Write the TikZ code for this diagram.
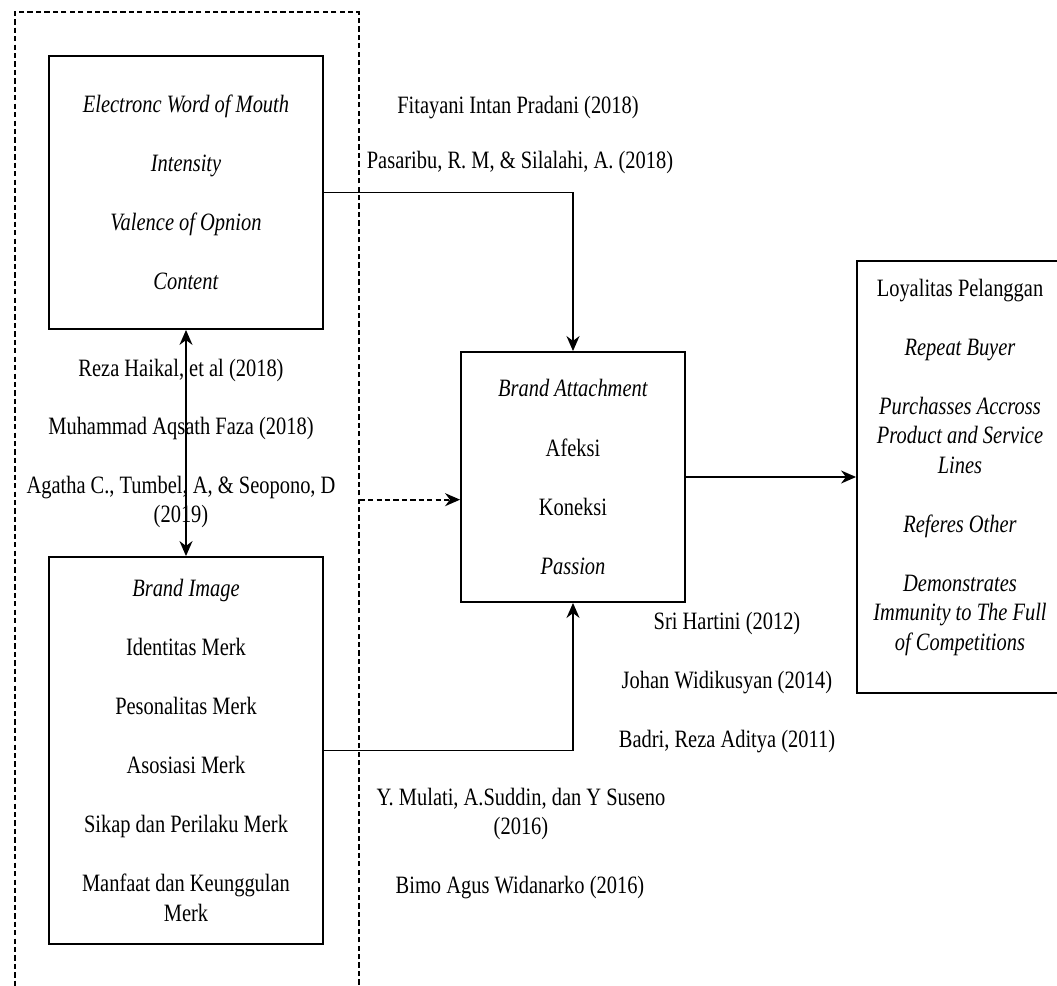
\documentclass[tikz,border=0pt]{standalone}
\usepackage{fontspec}
\setmainfont[FakeStretch=0.82]{Liberation Serif}
\usetikzlibrary{positioning,arrows.meta,calc}
\tikzset{
  varbox/.style={draw, line width=1.1pt, align=center, inner sep=0pt, font=\fontsize{14.2}{16.8}\selectfont},
  cite/.style={align=center, inner sep=0pt, font=\fontsize{14.2}{16.8}\selectfont},
  arrow/.style={-{Stealth[length=3mm, width=2.6mm]}, line width=1pt},
  grpframe/.style={draw, line width=1pt, dash pattern=on 3pt off 1.8pt}
}

\begin{document}
\begin{tikzpicture}[x=0.02cm, y=-0.02cm]
    \useasboundingbox (0,0) rectangle (1057,986);
    \clip (0,0) rectangle (1057,986);
    \node[grpframe, anchor=north west, minimum width=6.88cm, minimum height=20cm] (grp) at (14,11) {};
    \node[varbox, minimum width=5.48cm, minimum height=5.46cm] (ewom) at (186,192.5)
      {\textit{Electronc Word of Mouth}\\[16.8pt]\textit{Intensity}\\[16.8pt]\textit{Valence of Opnion}\\[16.8pt]\textit{Content}};
    \node[varbox, minimum width=5.48cm, minimum height=7.74cm] (bimage) at (186,750.5)
      {\textit{Brand Image}\\[16.8pt]Identitas Merk\\[16.8pt]Pesonalitas Merk\\[16.8pt]Asosiasi Merk\\[16.8pt]Sikap dan Perilaku Merk\\[16.8pt]Manfaat dan Keunggulan\\Merk};
    \node[varbox, minimum width=4.48cm, minimum height=5.0cm] (battach) at (573,477)
      {\textit{Brand Attachment}\\[16.8pt]Afeksi\\[16.8pt]Koneksi\\[16.8pt]\textit{Passion}};
    \node[varbox, minimum width=4.12cm, minimum height=8.64cm] (loyal) at (960,477)
      {Loyalitas Pelanggan\\[16.8pt]\textit{Repeat Buyer}\\[16.8pt]\textit{Purchasses Accross}\\\textit{Product and Service}\\\textit{Lines}\\[16.8pt]\textit{Referes Other}\\[16.8pt]\textit{Demonstrates}\\\textit{Immunity to The Full}\\\textit{of Competitions}\rule[-0.5cm]{0pt}{0pt}};
    \node[cite] (c1) at (181,370) {Reza Haikal, et al (2018)};
    \node[cite] (c2) at (181,428) {Muhammad Aqsath Faza (2018)};
    \node[cite] (c3) at (181,502) {Agatha C., Tumbel, A, \& Seopono, D\\(2019)};
    \node[cite] (c4) at (518,108) {Fitayani Intan Pradani (2018)};
    \node[cite] (c5) at (520,163) {Pasaribu, R. M, \& Silalahi, A. (2018)};
    \node[cite] (c6) at (727,623) {Sri Hartini (2012)};
    \node[cite] (c7) at (727,683) {Johan Widikusyan (2014)};
    \node[cite] (c8) at (727,742) {Badri, Reza Aditya (2011)};
    \node[cite] (c9) at (521,814) {Y. Mulati, A.Suddin, dan Y Suseno\\(2016)};
    \node[cite] (c10) at (520,888) {Bimo Agus Widanarko (2016)};
    \coordinate (dsh) at ($(battach.north west)!0.59!(battach.south west)$);
    \draw[arrow, {Stealth[length=3mm, width=2.6mm]}-{Stealth[length=3mm, width=2.6mm]}] (ewom) -- (bimage);
    \draw[arrow] (ewom.east) -| (battach.north);
    \draw[arrow] (bimage.east) -| (battach.south);
    \draw[arrow, dash pattern=on 3pt off 1.8pt] (grp.east |- dsh) -- (dsh);
    \draw[arrow] (battach) -- (loyal);
\end{tikzpicture}
\end{document}
